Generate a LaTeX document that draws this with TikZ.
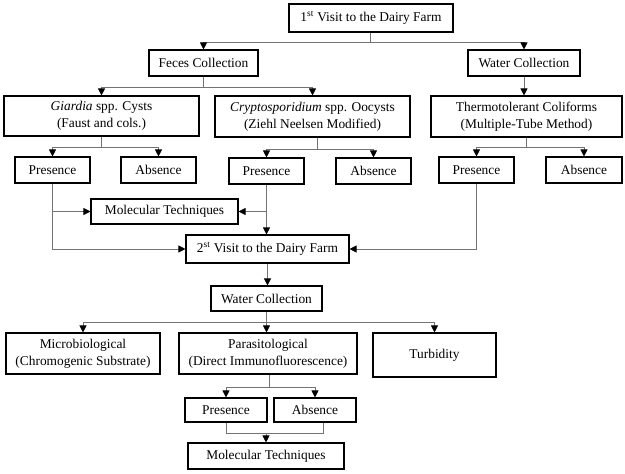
\documentclass[tikz,border=0pt]{standalone}
\usepackage{fontspec}
\setmainfont{Liberation Serif}
\usetikzlibrary{arrows.meta}
\tikzset{
  box/.style={draw=black, line width=1.1pt, fill=white, align=center, inner sep=0pt,
    font=\fontsize{13.4}{17}\selectfont},
  conn/.style={draw=black!55, line width=0.8pt},
  arr/.style={conn, -{Triangle[width=7pt,length=7pt,color=black]}}
}
\begin{document}
\begin{tikzpicture}[x=1pt,y=-1pt]
\useasboundingbox (0,0) rectangle (625,474);
% nodes
\node[box, minimum width=164, minimum height=28] (v1) at (371,18) {1\textsuperscript{st} Visit to the Dairy Farm};
\node[box, minimum width=109, minimum height=26] (feces) at (203.5,63) {Feces Collection};
\node[box, minimum width=112, minimum height=26] (water1) at (524,63) {Water Collection};
\node[box, minimum width=195, minimum height=40] (giardia) at (101.5,116) {\textit{Giardia} spp. Cysts\\(Faust and cols.)};
\node[box, minimum width=195, minimum height=41] (crypto) at (312.5,116.5) {\textit{Cryptosporidium} spp. Oocysts\\(Ziehl Neelsen Modified)};
\node[box, minimum width=191, minimum height=41] (thermo) at (526.5,116.5) {Thermotolerant Coliforms\\(Multiple-Tube Method)};
\node[box, minimum width=75, minimum height=26] (presG) at (52.5,170) {Presence};
\node[box, minimum width=75, minimum height=26] (absG) at (158.5,170) {Absence};
\node[box, minimum width=75, minimum height=26] (presC) at (266.5,171) {Presence};
\node[box, minimum width=75, minimum height=26] (absC) at (373.5,171) {Absence};
\node[box, minimum width=75, minimum height=26] (presT) at (476.5,170) {Presence};
\node[box, minimum width=76, minimum height=26] (absT) at (584,170) {Absence};
\node[box, minimum width=147, minimum height=25] (mol1) at (164.5,211.5) {Molecular Techniques};
\node[box, minimum width=163, minimum height=28] (v2) at (267.5,249) {2\textsuperscript{st} Visit to the Dairy Farm};
\node[box, minimum width=111, minimum height=25] (water2) at (266.5,298.5) {Water Collection};
\node[box, minimum width=154, minimum height=41] (micro) at (83,353.5) {Microbiological\\(Chromogenic Substrate)};
\node[box, minimum width=178, minimum height=41] (para) at (268,353.5) {Parasitological\\(Direct Immunofluorescence)};
\node[box, minimum width=123, minimum height=44] (turb) at (434.5,355) {Turbidity};
\node[box, minimum width=82, minimum height=24] (presP) at (226,410) {Presence};
\node[box, minimum width=82, minimum height=24] (absP) at (315,410) {Absence};
\node[box, minimum width=156, minimum height=26] (mol2) at (266,456) {Molecular Techniques};
% coordinates for buses
\coordinate (b1) at ([xshift=-1pt]v1.south |- 0,42);
\coordinate (b2) at (feces.south |- 0,87);
\coordinate (b3) at (giardia.south |- 0,147);
\coordinate (b4) at ([xshift=4.5pt]crypto.south |- 0,149);
\coordinate (b5) at (thermo.south |- 0,147);
\coordinate (b6) at (water2.south |- 0,322);
\coordinate (b7) at ([xshift=1pt]para.south |- 0,387);
\coordinate (m1) at (presG.south |- mol1.west);
\coordinate (m2) at (presC.south |- mol1.east);
\coordinate (g2) at (presG.south |- v2.west);
\coordinate (t2) at (presT.south |- v2.east);
\coordinate (pp) at (presP.south |- 0,433);
\coordinate (pa) at ([xshift=8pt]absP.south |- 0,433);
\coordinate (pm) at (mol2.north |- 0,433);
% connectors
\draw[conn] ([xshift=-1pt]v1.south) -- (b1);
\draw[arr] (b1) -| (feces.north);
\draw[arr] (b1) -| (water1.north);
\draw[conn] (feces.south) -- (b2);
\draw[arr] (b2) -| (giardia.north);
\draw[arr] (b2) -| (crypto.north);
\draw[arr] (water1.south) -- (water1.south |- thermo.north);
\draw[conn] (giardia.south) -- (b3);
\draw[arr] (b3) -| (presG.north);
\draw[arr] (b3) -| (absG.north);
\draw[conn] ([xshift=4.5pt]crypto.south) -- (b4);
\draw[arr] (b4) -| (presC.north);
\draw[arr] (b4) -| (absC.north);
\draw[conn] (thermo.south) -- (b5);
\draw[arr] (b5) -| (presT.north);
\draw[arr] (b5) -| (absT.north);
\draw[arr] (presG.south) |- (v2.west);
\draw[arr] (m1) -- (mol1.west);
\draw[arr] (presC.south) -- (presC.south |- v2.north);
\draw[arr] (m2) -- (mol1.east);
\draw[arr] (presT.south) |- (v2.east);
\draw[arr] (v2.south) -- (v2.south |- water2.north);
\draw[conn] (water2.south) -- (b6);
\draw[arr] (b6) -| (micro.north);
\draw[arr] (b6) -- (b6 |- para.north);
\draw[arr] (b6) -| (turb.north);
\draw[conn] ([xshift=1pt]para.south) -- (b7);
\draw[arr] (b7) -| (presP.north);
\draw[arr] (b7) -| (absP.north);
\draw[conn] (presP.south) |- (pa) -- ([xshift=8pt]absP.south);
\draw[arr] (pm) -- (mol2.north);
\end{tikzpicture}
\end{document}
